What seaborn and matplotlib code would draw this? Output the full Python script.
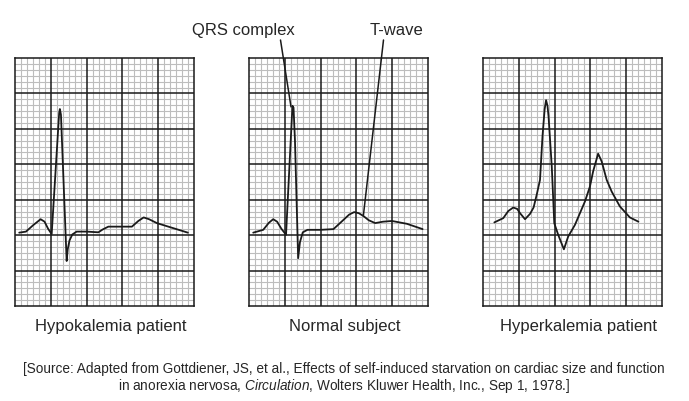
import matplotlib
matplotlib.use('Agg')
import matplotlib.pyplot as plt
import seaborn as sns
import pandas as pd

# traces, in grid units (x: 5 big squares, y: 7 big squares)
hypo_x = [0.11, 0.30, 0.50, 0.71, 0.82, 0.92, 1.02, 1.23, 1.25, 1.28, 1.44, 1.47, 1.52, 1.60, 1.72,
          2.00, 2.33, 2.45, 2.61, 3.27, 3.45, 3.60, 3.75, 3.97, 4.84]
hypo_y = [2.07, 2.10, 2.28, 2.45, 2.38, 2.18, 2.03, 5.45, 5.56, 5.40, 1.27, 1.60, 1.85, 2.02, 2.10,
          2.10, 2.08, 2.16, 2.24, 2.24, 2.40, 2.50, 2.45, 2.34, 2.07]

normal_x = [0.11, 0.39, 0.55, 0.67, 0.78, 0.90, 1.03, 1.21, 1.24, 1.28, 1.37, 1.42, 1.50, 1.63,
            2.00, 2.36, 2.50, 2.64, 2.80, 2.94, 3.07, 3.20, 3.35, 3.53, 3.75, 4.00, 4.42, 4.86]
normal_y = [2.07, 2.15, 2.35, 2.45, 2.38, 2.18, 2.01, 5.65, 5.60, 4.69, 1.35, 1.80, 2.08, 2.15,
            2.15, 2.17, 2.30, 2.43, 2.58, 2.65, 2.62, 2.54, 2.42, 2.34, 2.38, 2.40, 2.32, 2.17]

hyper_x = [0.31, 0.56, 0.70, 0.84, 0.95, 1.03, 1.17, 1.31, 1.41, 1.50, 1.59, 1.66, 1.72, 1.76, 1.80,
           1.83, 1.92, 1.99, 2.10, 2.26, 2.38, 2.57, 2.85, 2.99, 3.08, 3.22, 3.32, 3.46, 3.60, 3.83,
           4.11, 4.35]
hyper_y = [2.36, 2.48, 2.68, 2.78, 2.74, 2.62, 2.45, 2.60, 2.78, 3.15, 3.56, 4.79, 5.55, 5.81, 5.65,
           5.35, 3.94, 2.34, 2.01, 1.60, 1.96, 2.29, 2.95, 3.37, 3.80, 4.30, 4.08, 3.56, 3.23, 2.81,
           2.50, 2.38]

panel_titles = ['Hypokalemia patient', 'Normal subject', 'Hyperkalemia patient']
qrs_label = 'QRS complex'
t_label = 'T-wave'
qrs_point = (1.17, 5.62)
t_point = (3.20, 2.56)
source_1 = ('[Source: Adapted from Gottdiener, JS, et al., Effects of self-induced starvation '
            'on cardiac size and function')
source_2 = ('in anorexia nervosa, $\\mathit{Circulation}$, Wolters Kluwer Health, Inc., Sep 1, 1978.]')

sns.set_style('white')
plt.rcParams['font.family'] = ['Liberation Sans', 'DejaVu Sans']
plt.rcParams['mathtext.fontset'] = 'custom'
plt.rcParams['mathtext.rm'] = 'Liberation Sans'
plt.rcParams['mathtext.it'] = 'Liberation Sans:italic'

fig = plt.figure(figsize=(6.89, 4.01), dpi=100)
W, H = 689, 401
lefts = [15.3, 249.3, 483.3]
top, bottom = 58, 306
traces = [(hypo_x, hypo_y), (normal_x, normal_y), (hyper_x, hyper_y)]

axes = []
for left, (xs, ys), title in zip(lefts, traces, panel_titles):
    ax = fig.add_axes([left / W, (H - bottom) / H, 178.3 / W, (bottom - top) / H])
    # ecg paper: 6 small squares per big one
    for k in range(1, 30):
        if k % 6:
            ax.axvline(k / 6, color='#bdbdbd', lw=0.8, zorder=0)
    for k in range(1, 42):
        if k % 6:
            ax.axhline(k / 6, color='#bdbdbd', lw=0.8, zorder=0)
    for k in range(1, 5):
        ax.axvline(k, color='#1a1a1a', lw=1.1, zorder=1)
    for k in range(1, 7):
        ax.axhline(k, color='#1a1a1a', lw=1.1, zorder=1)
    df = pd.DataFrame({'t': xs, 'v': ys})
    sns.lineplot(data=df, x='t', y='v', sort=False, estimator=None, color='#1a1a1a',
                 lw=1.3, ax=ax, zorder=3)
    ax.set_xlim(0, 5)
    ax.set_ylim(0, 7)
    ax.set_xticks([])
    ax.set_yticks([])
    ax.set_xlabel('')
    ax.set_ylabel('')
    for s in ax.spines.values():
        s.set_color('#1a1a1a')
        s.set_linewidth(1.1)
    fig.text((left + 95) / W, (H - 331.5) / H, title, ha='center', va='baseline', fontsize=12)
    axes.append(ax)

ax2 = axes[1]
ax2.annotate('', xy=qrs_point, xycoords='data', xytext=(280.5, H - 40), textcoords='figure pixels',
             arrowprops=dict(arrowstyle='-', lw=1.1, color='#1a1a1a', shrinkA=0, shrinkB=0),
             annotation_clip=False)
ax2.annotate('', xy=t_point, xycoords='data', xytext=(383.5, H - 40), textcoords='figure pixels',
             arrowprops=dict(arrowstyle='-', lw=1.1, color='#1a1a1a', shrinkA=0, shrinkB=0),
             annotation_clip=False)
fig.text(243.5 / W, (H - 35) / H, qrs_label, ha='center', va='baseline', fontsize=12)
fig.text(396.5 / W, (H - 35) / H, t_label, ha='center', va='baseline', fontsize=12)

fig.text(344 / W, (H - 373.5) / H, source_1, ha='center', va='baseline', fontsize=9.8)
fig.text(344 / W, (H - 390) / H, source_2, ha='center', va='baseline', fontsize=9.8)

fig.savefig('out.png', dpi=100)
